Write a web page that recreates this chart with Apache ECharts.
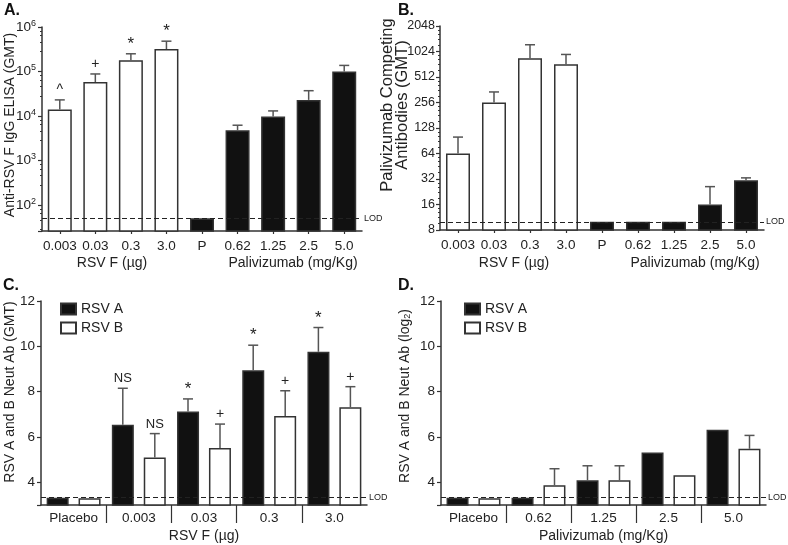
<!DOCTYPE html>
<html>
<head>
<meta charset="utf-8">
<script src="https://cdn.jsdelivr.net/npm/echarts@6/dist/echarts.min.js"></script>
<style>
html,body{margin:0;padding:0;background:#fff}
#chart{width:788px;height:545px}
</style>
</head>
<body>
<div id="chart"></div>
<script>
// panel A / B categories
var catsAB = ['0.003', '0.03', '0.3', '3.0', 'P', '0.62', '1.25', '2.5', '5.0'];
// A: anti-RSV F IgG ELISA GMT
var elisaGmt = [14000, 58000, 180000, 320000, 50, 4800, 9800, 23000, 100000];
var elisaErr = [23000, 88000, 250000, 480000, null, 6200, 13000, 37000, 137000];
var elisaMark = ['^', '+', '*', '*', '', '', '', '', ''];
// B: palivizumab competing antibodies GMT
var compGmt = [64, 256, 850, 723, 10, 10, 10, 16, 31];
var compErr = [100, 341, 1230, 945, null, null, null, 26, 33];
// C: neut Ab by RSV F dose
var catsC = ['Placebo', '0.003', '0.03', '0.3', '3.0'];
var neutCA = [3.32, 6.54, 7.12, 8.95, 9.76];
var neutCAErr = [null, 8.15, 7.68, 10.05, 10.83];
var neutCAMark = ['', 'NS', '*', '*', '*'];
var neutCB = [3.3, 5.1, 5.51, 6.93, 7.31];
var neutCBErr = [null, 6.15, 6.57, 8.04, 8.22];
var neutCBMark = ['', 'NS', '+', '+', '+'];
// D: neut Ab by palivizumab dose
var catsD = ['Placebo', '0.62', '1.25', '2.5', '5.0'];
var neutDA = [3.32, 3.32, 4.09, 5.32, 6.32];
var neutDAErr = [null, null, 4.73, null, null];
var neutDB = [3.3, 3.87, 4.09, 4.31, 5.48];
var neutDBErr = [null, 4.6, 4.73, null, 6.07];
// limits of detection
var lodElisa = 50, lodComp = 10, lodNeut = 3.32;

var FONT = '"Liberation Sans", Arial, Helvetica, sans-serif';
var INK = '#222';
var AXIS = '#333';

var myChart = echarts.init(document.getElementById('chart'), null, {renderer: 'canvas'});

function lodLine(v) {
  return {
    silent: true,
    symbol: 'none',
    lineStyle: {type: [5, 3], color: INK, width: 1.2},
    label: {position: 'end', formatter: 'LOD', fontSize: 9, color: INK, distance: 2, fontFamily: FONT},
    data: [{yAxis: v}]
  };
}

// error bar (upper only) + significance mark
function errSeries(idx, vals, errs, marks, shift) {
  return {
    type: 'custom',
    xAxisIndex: idx,
    yAxisIndex: idx,
    z: 5,
    silent: true,
    data: vals.map(function(v, i) { return [i, v, errs[i] == null ? v : errs[i]]; }),
    encode: {x: 0, y: [1, 2]},
    renderItem: function(params, api) {
      var i = params.dataIndex;
      var base = api.coord([api.value(0), api.value(1)]);
      var top = api.coord([api.value(0), api.value(2)]);
      var x = base[0] + shift;
      var kids = [];
      if (errs[i] != null) {
        kids.push({type: 'line', shape: {x1: x, y1: base[1], x2: x, y2: top[1]}, style: {stroke: '#555', lineWidth: 1.5}});
        kids.push({type: 'line', shape: {x1: x - 5, y1: top[1], x2: x + 5, y2: top[1]}, style: {stroke: '#555', lineWidth: 1.5}});
      }
      if (marks && marks[i]) {
        var m = marks[i];
        kids.push({
          type: 'text', x: x, y: top[1] - (m === '*' ? 1 : 3),
          style: {text: m, textAlign: 'center', align: 'center', textVerticalAlign: 'bottom', verticalAlign: 'bottom',
                  fontSize: m === 'NS' ? 13 : (m === '*' ? 17 : 14), fontFamily: FONT, fill: INK}
        });
      }
      return {type: 'group', children: kids};
    }
  };
}

var axisLine = {show: true, lineStyle: {color: AXIS, width: 1.5}};
var axisTick = {show: true, length: 4, lineStyle: {color: AXIS, width: 1.2}};

function catAxis(idx, cats, grouped, name) {
  return {
    type: 'category', gridIndex: idx, data: cats,
    axisLine: axisLine,
    axisTick: {show: !grouped, length: 3, alignWithLabel: true, lineStyle: {color: AXIS, width: 1.2}},
    axisLabel: {interval: 0, fontSize: 13.5, color: INK, margin: grouped ? 6 : 8, fontFamily: FONT},
    splitLine: {show: false},
    name: name || '', nameLocation: 'middle', nameGap: 24, nameMoveOverlap: false,
    nameTextStyle: {fontSize: 14, color: INK, fontFamily: FONT}
  };
}

// group separators below the grouped axes (split lines of a thin helper grid)
function sepAxis(idx, cats) {
  return {
    type: 'category', gridIndex: idx, data: cats,
    axisLine: {show: false}, axisTick: {show: false}, axisLabel: {show: false},
    splitLine: {show: true, showMinLine: false, showMaxLine: false, lineStyle: {color: AXIS, width: 1.2}}
  };
}

function hiddenY(idx) {
  return {type: 'value', gridIndex: idx, show: false, min: 0, max: 1, splitLine: {show: false}};
}

function neutAxis(idx, name, pad, gap) {
  return {
    type: 'value', gridIndex: idx, min: 3, max: 12, splitNumber: 5,
    axisLine: axisLine, axisTick: axisTick, splitLine: {show: false},
    axisLabel: {fontSize: 13.5, color: INK, margin: 6, fontFamily: FONT,
                formatter: function(v) { return v < 3.5 ? '' : String(v); }},
    name: name, nameLocation: 'middle', nameGap: gap, nameMoveOverlap: false,
    nameTextStyle: {fontSize: 14, color: INK, fontFamily: FONT, padding: [0, 0, 0, pad],
                    rich: {sub: {fontSize: 9, verticalAlign: 'bottom', fontFamily: FONT, color: INK}}}
  };
}

function barStyle(fill) {
  return {color: fill, borderColor: AXIS, borderWidth: 1.5};
}

var option = {
  animation: false,
  textStyle: {fontFamily: FONT},
  grid: [
    {left: 42, top: 27, width: 320, height: 204, outerBoundsMode: 'none'},
    {left: 440, top: 26, width: 324, height: 204, outerBoundsMode: 'none'},
    {left: 41, top: 301, width: 326, height: 204, outerBoundsMode: 'none'},
    {left: 441, top: 301, width: 325, height: 204, outerBoundsMode: 'none'},
    {left: 41, top: 505, width: 326, height: 18, outerBoundsMode: 'none'},
    {left: 441, top: 505, width: 325, height: 18, outerBoundsMode: 'none'}
  ],
  legend: [
    {left: 55, top: 297, orient: 'vertical', icon: 'rect', itemWidth: 15, itemHeight: 11, itemGap: 5,
     selectedMode: false, data: ['RSV A', 'RSV B'], textStyle: {fontSize: 14, color: INK, fontFamily: FONT}},
    {left: 459, top: 297, orient: 'vertical', icon: 'rect', itemWidth: 15, itemHeight: 11, itemGap: 5,
     selectedMode: false, data: ['RSV A', 'RSV B'], textStyle: {fontSize: 14, color: INK, fontFamily: FONT}}
  ],
  xAxis: [
    catAxis(0, catsAB, false),
    catAxis(1, catsAB, false),
    catAxis(2, catsC, true, 'RSV F (µg)'),
    catAxis(3, catsD, true, 'Palivizumab (mg/Kg)'),
    sepAxis(4, catsC),
    sepAxis(5, catsD)
  ],
  yAxis: [
    {
      type: 'log', logBase: 10, gridIndex: 0, min: 26, max: 1000000,
      axisLine: axisLine, axisTick: axisTick, splitLine: {show: false},
      minorTick: {show: true, splitNumber: 5, length: 2, lineStyle: {color: AXIS}},
      axisLabel: {
        margin: 6, color: INK, fontFamily: FONT,
        formatter: function(v) {
          var p = Math.log10(v);
          if (Math.abs(p - Math.round(p)) > 1e-6) return '';
          return '{b|10}{s|' + Math.round(p) + '}';
        },
        rich: {
          b: {fontSize: 13.5, color: INK, fontFamily: FONT, lineHeight: 16},
          s: {fontSize: 9, color: INK, fontFamily: FONT, verticalAlign: 'top', lineHeight: 16}
        }
      },
      name: 'Anti-RSV F IgG ELISA (GMT)', nameLocation: 'middle', nameGap: 25, nameMoveOverlap: false,
      nameTextStyle: {fontSize: 14, color: INK, fontFamily: FONT, padding: [0, 0, 0, 8]}
    },
    {
      type: 'log', logBase: 2, gridIndex: 1, min: 8, max: 2048,
      axisLine: axisLine, axisTick: axisTick, splitLine: {show: false},
      minorTick: {show: true, splitNumber: 5, length: 2, lineStyle: {color: AXIS}},
      axisLabel: {margin: 5, fontSize: 12.5, color: INK, fontFamily: FONT,
                  formatter: function(v) { return String(Math.round(v)); }},
      name: 'Palivizumab Competing\nAntibodies (GMT)', nameLocation: 'middle', nameGap: 30, nameMoveOverlap: false,
      nameTextStyle: {fontSize: 16.5, lineHeight: 15, color: INK, fontFamily: FONT, padding: [0, 0, 0, 46]}
    },
    neutAxis(2, 'RSV A and B Neut Ab (GMT)', 22, 24),
    neutAxis(3, 'RSV A and B Neut Ab (log{sub|2})', 14, 29),
    hiddenY(4),
    hiddenY(5)
  ],
  graphic: [
    {type: 'text', x: 4, y: 3, style: {text: 'A.', font: 'bold 16px ' + FONT, fill: '#111'}},
    {type: 'text', x: 398, y: 3, style: {text: 'B.', font: 'bold 16px ' + FONT, fill: '#111'}},
    {type: 'text', x: 3, y: 278, style: {text: 'C.', font: 'bold 16px ' + FONT, fill: '#111'}},
    {type: 'text', x: 398, y: 278, style: {text: 'D.', font: 'bold 16px ' + FONT, fill: '#111'}},
    {type: 'text', x: 112, y: 256, style: {text: 'RSV F (µg)', textAlign: 'center', align: 'center', font: '14px ' + FONT, fill: INK}},
    {type: 'text', x: 293, y: 256, style: {text: 'Palivizumab (mg/Kg)', textAlign: 'center', align: 'center', font: '14px ' + FONT, fill: INK}},
    {type: 'text', x: 514, y: 256, style: {text: 'RSV F (µg)', textAlign: 'center', align: 'center', font: '14px ' + FONT, fill: INK}},
    {type: 'text', x: 695, y: 256, style: {text: 'Palivizumab (mg/Kg)', textAlign: 'center', align: 'center', font: '14px ' + FONT, fill: INK}}
  ],
  series: [
    {
      type: 'bar', xAxisIndex: 0, yAxisIndex: 0, data: elisaGmt, barWidth: 24, clip: true,
      itemStyle: {color: function(p) { return p.dataIndex < 4 ? '#fff' : '#111'; }, borderColor: AXIS, borderWidth: 1.5},
      markLine: lodLine(lodElisa)
    },
    errSeries(0, elisaGmt, elisaErr, elisaMark, 0),
    {
      type: 'bar', xAxisIndex: 1, yAxisIndex: 1, data: compGmt, barWidth: 24, clip: true,
      itemStyle: {color: function(p) { return p.dataIndex < 4 ? '#fff' : '#111'; }, borderColor: AXIS, borderWidth: 1.5},
      markLine: lodLine(lodComp)
    },
    errSeries(1, compGmt, compErr, null, 0),
    {name: 'RSV A', type: 'bar', xAxisIndex: 2, yAxisIndex: 2, data: neutCA, barWidth: 22, barGap: '45%',
     itemStyle: barStyle('#111'), markLine: lodLine(lodNeut)},
    {name: 'RSV B', type: 'bar', xAxisIndex: 2, yAxisIndex: 2, data: neutCB, barWidth: 22, barGap: '45%',
     itemStyle: barStyle('#fff')},
    errSeries(2, neutCA, neutCAErr, neutCAMark, -16),
    errSeries(2, neutCB, neutCBErr, neutCBMark, 16),
    {name: 'RSV A', type: 'bar', xAxisIndex: 3, yAxisIndex: 3, data: neutDA, barWidth: 22, barGap: '45%',
     itemStyle: barStyle('#111'), markLine: lodLine(lodNeut)},
    {name: 'RSV B', type: 'bar', xAxisIndex: 3, yAxisIndex: 3, data: neutDB, barWidth: 22, barGap: '45%',
     itemStyle: barStyle('#fff')},
    errSeries(3, neutDA, neutDAErr, null, -16),
    errSeries(3, neutDB, neutDBErr, null, 16)
  ]
};
myChart.setOption(option);
</script>
</body>
</html>
